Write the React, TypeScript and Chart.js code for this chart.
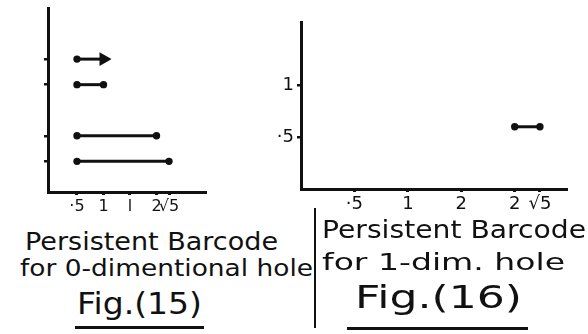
import React, { useEffect, useRef } from "react";
import { Chart, registerables } from "chart.js";

Chart.register(...registerables);

const SQRT5 = Math.sqrt(5);

// Fig. (15): persistence barcode for 0-dimensional holes
const births0 = [0.5, 0.5, 0.5, 0.5];
const deaths0 = [1, 1, 2, SQRT5];
const levels0 = [5, 4, 2, 1];
const arrows0 = [true, false, false, false];
const xTicks0 = [0.5, 1, 1.5, 2, SQRT5];
const xLabels0 = ["·5", "1", "l", "2", "√5"];

// Fig. (16): persistence barcode for 1-dimensional holes
const births1 = [2];
const deaths1 = [SQRT5];
const levels1 = [0.6];
const arrows1 = [false];
const xTicks1 = [0.5, 1, 1.5, 2, SQRT5];
const xLabels1 = ["·5", "1", "2", "2", "√5"];
const yTicks1 = [0.5, 1];
const yLabels1 = ["·5", "1"];

const INK = "#111";
const FONT = "DejaVu Sans";

type BarcodeSpec = {
  births: number[];
  deaths: number[];
  levels: number[];
  arrows: boolean[];
  xTicks: number[];
  xLabels: string[];
  xMin: number;
  xMax: number;
  yTicks: number[];
  yLabels: string[] | null;
  yMin: number;
  yMax: number;
  yAxisWidth: number;
  xAxisHeight: number;
  tickFont: number;
  padding: { top: number; right: number; left: number; bottom: number };
};

function labelFor(values: number[], labels: string[] | null, v: number) {
  if (!labels) return "";
  const i = values.findIndex((t) => Math.abs(t - v) < 1e-6);
  return i >= 0 ? labels[i] : "";
}

function Barcode({ spec, width, height, style }: { spec: BarcodeSpec; width: number; height: number; style: React.CSSProperties }) {
  const ref = useRef<HTMLCanvasElement>(null);
  useEffect(() => {
    if (!ref.current) return;
    const datasets = spec.births.map((b, i) => ({
      data: [
        { x: b, y: spec.levels[i] },
        { x: spec.deaths[i], y: spec.levels[i] },
      ],
      borderColor: INK,
      backgroundColor: INK,
      borderWidth: 3,
      pointRadius: [2.2, spec.arrows[i] ? 5 : 2.2],
      pointStyle: ["circle", spec.arrows[i] ? "triangle" : "circle"],
      pointRotation: [0, 90],
    }));
    const chart = new Chart(ref.current, {
      type: "line",
      data: { datasets: datasets as any },
      options: {
        animation: false,
        responsive: false,
        devicePixelRatio: 1,
        layout: { padding: spec.padding },
        plugins: { legend: { display: false }, tooltip: { enabled: false } },
        scales: {
          x: {
            type: "linear",
            min: spec.xMin,
            max: spec.xMax,
            afterBuildTicks: (s: any) => {
              s.ticks = spec.xTicks.map((v) => ({ value: v }));
            },
            afterFit: (s: any) => {
              s.height = spec.xAxisHeight;
            },
            ticks: {
              autoSkip: false,
              maxRotation: 0,
              padding: 2,
              color: INK,
              font: { family: FONT, size: spec.tickFont },
              callback: (v: any) => labelFor(spec.xTicks, spec.xLabels, Number(v)),
            },
            grid: { drawOnChartArea: false, drawTicks: true, tickLength: 3, color: INK, lineWidth: 3 },
            border: { color: INK, width: 3 },
          },
          y: {
            type: "linear",
            min: spec.yMin,
            max: spec.yMax,
            afterBuildTicks: (s: any) => {
              s.ticks = spec.yTicks.map((v) => ({ value: v }));
            },
            afterFit: (s: any) => {
              s.width = spec.yAxisWidth;
            },
            ticks: {
              autoSkip: false,
              padding: 3,
              color: INK,
              font: { family: FONT, size: spec.yLabels ? spec.tickFont : 2 },
              callback: (v: any) => labelFor(spec.yTicks, spec.yLabels, Number(v)),
            },
            grid: { drawOnChartArea: false, drawTicks: true, tickLength: 4, color: INK, lineWidth: 2.5 },
            border: { color: INK, width: 3 },
          },
        },
      } as any,
    });
    return () => chart.destroy();
  }, [spec]);
  return <canvas ref={ref} width={width} height={height} style={{ position: "absolute", ...style }} />;
}

const spec0: BarcodeSpec = {
  births: births0,
  deaths: deaths0,
  levels: levels0,
  arrows: arrows0,
  xTicks: xTicks0,
  xLabels: xLabels0,
  xMin: -0.047,
  xMax: 2.915,
  yTicks: levels0,
  yLabels: null,
  yMin: -0.2,
  yMax: 7,
  yAxisWidth: 48,
  xAxisHeight: 28,
  tickFont: 16,
  padding: { top: 5, right: 10, left: 0, bottom: 0 },
};

const spec1: BarcodeSpec = {
  births: births1,
  deaths: deaths1,
  levels: levels1,
  arrows: arrows1,
  xTicks: xTicks1,
  xLabels: xLabels1,
  xMin: 0,
  xMax: 2.48,
  yTicks: yTicks1,
  yLabels: yLabels1,
  yMin: 0,
  yMax: 1.61,
  yAxisWidth: 61,
  xAxisHeight: 31,
  tickFont: 18,
  padding: { top: 22, right: 22, left: 0, bottom: 0 },
};

// Caption stretched horizontally to a given width, positioned by its baseline
let measureCtx: CanvasRenderingContext2D | null = null;
function Caption({ text, left, baseline, width, size }: { text: string; left: number; baseline: number; width: number; size: number }) {
  if (!measureCtx) measureCtx = document.createElement("canvas").getContext("2d");
  let sx = 1;
  if (measureCtx) {
    measureCtx.font = `${size}px "${FONT}"`;
    const w = measureCtx.measureText(text).width;
    if (w > 0) sx = width / w;
  }
  return (
    <div
      style={{
        position: "absolute",
        left,
        top: baseline - 0.846 * size,
        fontFamily: FONT,
        fontSize: size,
        lineHeight: 1,
        color: INK,
        whiteSpace: "nowrap",
        transform: `scaleX(${sx})`,
        transformOrigin: "0 0",
      }}
    >
      {text}
    </div>
  );
}

export default function App() {
  return (
    <div style={{ position: "absolute", left: 0, top: 0, width: 588, height: 334, background: "#fff", overflow: "hidden" }}>
      <Barcode spec={spec0} width={215} height={220} style={{ left: 0, top: 0 }} />
      <Barcode spec={spec1} width={348} height={220} style={{ left: 240, top: 0 }} />

      <Caption text="Persistent Barcode" left={25} baseline={250} width={253} size={25} />
      <Caption text="for 0-dimentional hole" left={20} baseline={276} width={293} size={23} />
      <Caption text="Fig.(15)" left={77} baseline={314} width={125} size={31} />
      <div style={{ position: "absolute", left: 75, top: 326, width: 129, height: 3, background: INK }} />

      <div style={{ position: "absolute", left: 314, top: 208, width: 2, height: 120, background: INK }} />

      <Caption text="Persistent Barcode" left={322} baseline={238} width={264} size={25} />
      <Caption text="for 1-dim. hole" left={322} baseline={270} width={243} size={23} />
      <Caption text="Fig.(16)" left={355} baseline={308} width={167} size={32} />
      <div style={{ position: "absolute", left: 347, top: 327, width: 181, height: 3, background: INK }} />
    </div>
  );
}
